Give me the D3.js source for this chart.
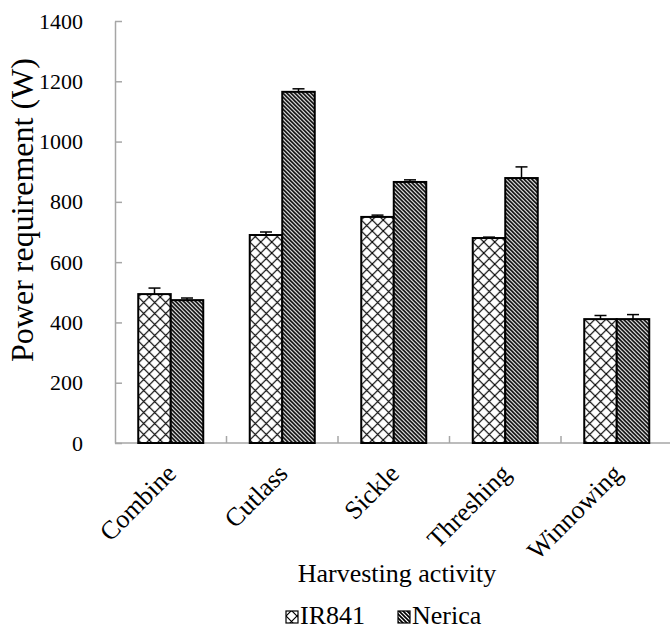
<!DOCTYPE html>
<html>
<head>
<meta charset="utf-8">
<script src="https://cdn.jsdelivr.net/npm/d3@7"></script>
<style>
  html, body { margin: 0; padding: 0; background: #fff; }
  svg { display: block; }
  svg text { font-family: "Liberation Serif", "Times New Roman", serif !important; }
</style>
</head>
<body>
<svg id="chart" width="670" height="630"></svg>
<script>
// ---- data ----
const categories = ["Combine", "Cutlass", "Sickle", "Threshing", "Winnowing"];
const seriesNames = ["IR841", "Nerica"];
const ir841Values = [494, 690, 750, 680, 411];
const ir841Errors = [20, 10, 6, 3, 12];
const nericaValues = [474, 1165, 866, 879, 411];
const nericaErrors = [7, 10, 7, 37, 15];
const yTicks = [0, 200, 400, 600, 800, 1000, 1200, 1400];
const yTitle = "Power requirement (W)";
const xTitle = "Harvesting activity";

const series = [
  { name: seriesNames[0], values: ir841Values, errors: ir841Errors, pattern: "url(#crosshatch)" },
  { name: seriesNames[1], values: nericaValues, errors: nericaErrors, pattern: "url(#diag)" }
];

const svg = d3.select("#chart");
const defs = svg.append("defs");

// crosshatch pattern
const p1 = defs.append("pattern").attr("id", "crosshatch")
  .attr("patternUnits", "userSpaceOnUse").attr("width", 11).attr("height", 11);
p1.append("rect").attr("width", 11).attr("height", 11).attr("fill", "#fff");
p1.append("path").attr("d", "M0,0L11,11M11,0L0,11")
  .attr("stroke", "#000").attr("stroke-width", 1.2).attr("fill", "none");

// dense back-diagonal pattern
const p2 = defs.append("pattern").attr("id", "diag")
  .attr("patternUnits", "userSpaceOnUse").attr("width", 4).attr("height", 4);
p2.append("rect").attr("width", 4).attr("height", 4).attr("fill", "#fff");
p2.append("path").attr("d", "M-1,-1L5,5M-1,3L1,5M3,-1L5,1")
  .attr("stroke", "#000").attr("stroke-width", 1.6).attr("fill", "none");

const plotLeft = 115, plotRight = 672.5, plotTop = 21, plotBottom = 443;

const y = d3.scaleLinear().domain([0, 1400]).range([plotBottom, plotTop]);
const x0 = d3.scaleBand().domain(categories).range([plotLeft, plotRight])
  .paddingInner(0.417).paddingOuter(0.2085);
const x1 = d3.scaleBand().domain(seriesNames).range([0, x0.bandwidth()]);

// y axis
const yAxis = d3.axisLeft(y).tickValues(yTicks).tickSize(0).tickPadding(32).tickFormat(d3.format("d"));
const gy = svg.append("g").attr("transform", `translate(${plotLeft},0)`).call(yAxis);
gy.attr("font-family", null).attr("font-size", null);
gy.select(".domain").attr("stroke", "#a6a6a6").attr("stroke-width", 1.5);
gy.selectAll(".tick text").attr("font-size", 22).attr("fill", "#000");
gy.selectAll(".tick").append("line").attr("x1", 0).attr("x2", 7)
  .attr("stroke", "#a6a6a6").attr("stroke-width", 1.5);

// x axis line + ticks at category boundaries
svg.append("line").attr("x1", plotLeft).attr("x2", plotRight).attr("y1", plotBottom).attr("y2", plotBottom)
  .attr("stroke", "#a6a6a6").attr("stroke-width", 1.5);
svg.selectAll(".xb").data(categories.slice(1)).enter().append("line")
  .attr("x1", d => x0(d) - x0.step() * 0.2085).attr("x2", d => x0(d) - x0.step() * 0.2085)
  .attr("y1", plotBottom).attr("y2", plotBottom - 7)
  .attr("stroke", "#a6a6a6").attr("stroke-width", 1.5);

// bars
const groups = svg.selectAll(".cat").data(categories).enter().append("g")
  .attr("transform", d => `translate(${x0(d)},0)`);
series.forEach(s => {
  groups.append("rect")
    .attr("x", x1(s.name))
    .attr("width", x1.bandwidth())
    .attr("y", (d, i) => y(s.values[i]))
    .attr("height", (d, i) => y(0) - y(s.values[i]))
    .attr("fill", s.pattern)
    .attr("stroke", "#000").attr("stroke-width", 2);
  groups.append("line")
    .attr("x1", x1(s.name) + x1.bandwidth() / 2).attr("x2", x1(s.name) + x1.bandwidth() / 2)
    .attr("y1", (d, i) => y(s.values[i])).attr("y2", (d, i) => y(s.values[i] + s.errors[i]))
    .attr("stroke", "#000").attr("stroke-width", 1.5);
  groups.append("line")
    .attr("x1", x1(s.name) + x1.bandwidth() / 2 - 6).attr("x2", x1(s.name) + x1.bandwidth() / 2 + 6)
    .attr("y1", (d, i) => y(s.values[i] + s.errors[i])).attr("y2", (d, i) => y(s.values[i] + s.errors[i]))
    .attr("stroke", "#000").attr("stroke-width", 1.5);
});

// category labels rotated
svg.selectAll(".xl").data(categories).enter().append("text")
  .attr("transform", d => `translate(${x0(d) + x0.bandwidth() / 2 + 7},${plotBottom + 32}) rotate(-45)`)
  .attr("text-anchor", "end")
  .attr("font-size", 26)
  .attr("fill", "#000")
  .text(d => d);

// axis titles
svg.append("text").attr("transform", `translate(33,210) rotate(-90)`)
  .attr("text-anchor", "middle").attr("font-size", 32).attr("fill", "#000").text(yTitle);
svg.append("text").attr("x", 397).attr("y", 582)
  .attr("text-anchor", "middle").attr("font-size", 26).attr("fill", "#000").text(xTitle);

// legend
const legendX = [286, 398];
series.forEach((s, i) => {
  svg.append("rect").attr("x", legendX[i]).attr("y", 611).attr("width", 12).attr("height", 12)
    .attr("fill", s.pattern).attr("stroke", "#000").attr("stroke-width", 1.2);
  svg.append("text").attr("x", legendX[i] + 14).attr("y", 624)
    .attr("font-size", 26).attr("fill", "#000").text(s.name);
});
</script>
</body>
</html>
